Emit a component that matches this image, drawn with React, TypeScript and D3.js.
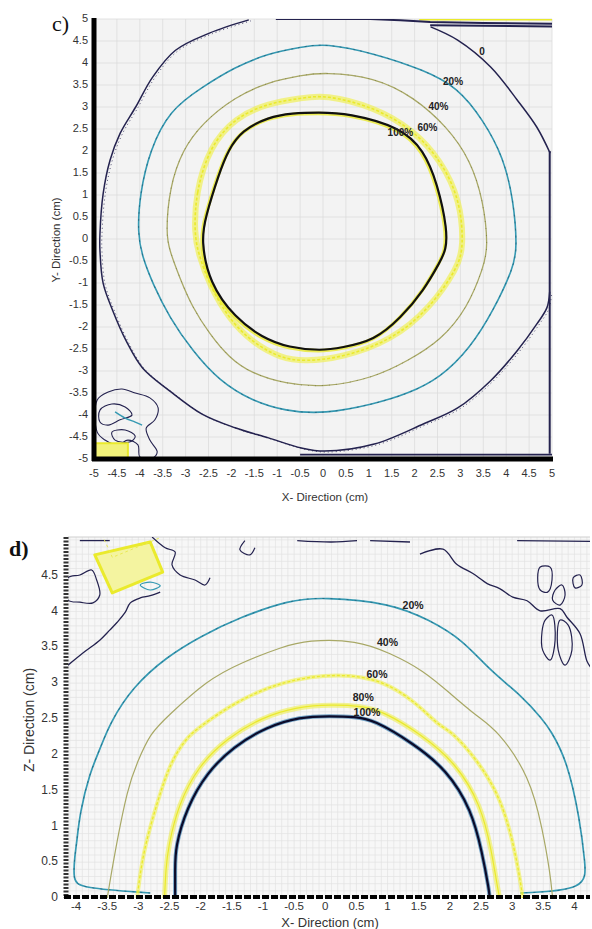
import React from "react";
import * as d3 from "d3";

// ---------- tick labels ----------
const cTicks = [-5, -4.5, -4, -3.5, -3, -2.5, -2, -1.5, -1, -0.5, 0, 0.5, 1, 1.5, 2, 2.5, 3, 3.5, 4, 4.5, 5];
const dXTicks = [-4, -3.5, -3, -2.5, -2, -1.5, -1, -0.5, 0, 0.5, 1, 1.5, 2, 2.5, 3, 3.5, 4];
const dZTicks = [0, 0.5, 1, 1.5, 2, 2.5, 3, 3.5, 4, 4.5];

// ---------- panel c contours (x, y in cm) ----------
const c100: [number, number][] = [[-2.66, -0.03], [-2.57, 0.49], [-2.27, 1.49], [-2.07, 2.02], [-1.77, 2.47], [-1.19, 2.77], [-0.68, 2.86], [-0.1, 2.88], [0.55, 2.86], [1.7, 2.54], [2.2, 2.02], [2.5, 1.26], [2.72, 0.19], [2.68, -0.26], [2.57, -0.49], [2.2, -1.17], [1.7, -1.79], [1.12, -2.31], [0.4, -2.47], [-0.03, -2.54], [-0.75, -2.47], [-1.33, -2.24], [-1.92, -1.79], [-2.48, -1.01]];
const c60: [number, number][] = [[-2.81, 0.12], [-2.78, 1.04], [-2.48, 2.09], [-1.92, 2.76], [-1.19, 3.09], [-0.47, 3.2], [0.03, 3.28], [1.12, 3.0], [1.98, 2.47], [2.57, 1.79], [3.0, 0.88], [3.07, -0.19], [2.94, -0.65], [2.35, -1.56], [1.49, -2.31], [0.4, -2.7], [-0.4, -2.78], [-0.9, -2.72], [-1.55, -2.35], [-2.05, -1.82], [-2.48, -1.05], [-2.72, -0.33]];
const c40: [number, number][] = [[-3.43, 0.12], [-3.35, 1.18], [-3.07, 2.02], [-2.64, 2.63], [-1.92, 3.23], [-1.19, 3.57], [-0.47, 3.72], [0.03, 3.79], [1.12, 3.68], [1.98, 3.23], [2.72, 2.54], [3.22, 1.79], [3.5, 0.88], [3.61, -0.19], [3.5, -0.65], [3.16, -1.56], [2.57, -2.31], [1.85, -2.77], [1.12, -3.15], [0.03, -3.38], [-0.83, -3.29], [-1.55, -3.06], [-2.05, -2.7], [-2.48, -2.15], [-2.85, -1.56], [-3.13, -0.88], [-3.35, -0.26]];
const c20: [number, number][] = [[-4.05, 0.12], [-4.0, 1.03], [-3.78, 2.02], [-3.35, 2.93], [-2.64, 3.45], [-1.92, 3.91], [-1.19, 4.22], [-0.47, 4.36], [0.03, 4.45], [1.12, 4.22], [2.2, 3.84], [2.94, 3.45], [3.5, 2.7], [3.94, 1.86], [4.16, 0.88], [4.24, -0.19], [4.16, -0.65], [3.72, -1.63], [3.22, -2.47], [2.57, -3.15], [1.85, -3.52], [1.12, -3.75], [0.03, -3.98], [-0.83, -3.91], [-1.55, -3.68], [-2.27, -3.22], [-2.85, -2.54], [-3.35, -1.79], [-3.72, -1.01], [-3.94, -0.42]];
const c0Arc: [number, number][] = [[-1.62, 4.98], [-2.48, 4.68], [-3.22, 4.29], [-3.72, 3.68], [-4.09, 3.0], [-4.43, 2.4], [-4.65, 1.79], [-4.8, 1.03], [-4.87, 0.12], [-4.87, -0.26], [-4.8, -1.01], [-4.59, -1.63], [-4.3, -2.31], [-3.94, -2.93], [-3.35, -3.45], [-2.64, -3.98], [-1.92, -4.29], [-1.19, -4.52], [-0.47, -4.75], [0.03, -4.82], [1.12, -4.66], [2.2, -4.2], [2.94, -3.84], [3.66, -3.22], [4.24, -2.54], [4.67, -1.93], [4.89, -1.56], [4.95, -1.2]];
const c0TopRight: [number, number][] = [[2.35, 4.82], [2.94, 4.52], [3.66, 3.91], [4.24, 3.16], [4.67, 2.54], [4.96, 1.95]];
const c0TopEdge: [number, number][] = [[-1.03, 5.0], [1.03, 5.0], [1.69, 4.97], [2.34, 4.93], [3.5, 4.91], [5, 4.89]];
const c0TopEdge2: [number, number][] = [[2.34, 4.86], [5, 4.83]];
const c0RightEdge: [number, number][] = [[4.95, 2.0], [4.95, -4.88]];
const c0BottomEdge: [number, number][] = [[-0.5, -4.9], [5, -4.9]];
const cYellowTop: [number, number][] = [[2.1, 5.0], [5, 5.0]];
const cBlob1: [number, number][] = [[-4.93, -3.66], [-4.69, -3.48], [-4.39, -3.41], [-4.1, -3.5], [-3.78, -3.61], [-3.6, -3.84], [-3.67, -4.11], [-3.86, -4.3], [-3.78, -4.57], [-3.62, -4.84], [-3.73, -4.98], [-4.0, -4.95], [-4.04, -4.68], [-4.26, -4.57], [-4.48, -4.68], [-4.76, -4.57], [-4.93, -4.39]];
const cBlob2: [number, number][] = [[-4.87, -3.89], [-4.61, -3.75], [-4.32, -3.82], [-4.17, -4.0], [-4.43, -4.11], [-4.69, -4.23], [-4.87, -4.16]];
const cBlob3: [number, number][] = [[-4.61, -4.39], [-4.32, -4.34], [-4.1, -4.48], [-4.21, -4.61], [-4.54, -4.57]];
const cTealBit: [number, number][] = [[-4.54, -3.93], [-4.32, -4.07], [-4.1, -4.16], [-3.95, -4.23]];
const cYellowBox: [number, number][] = [[-4.98, -4.64], [-4.26, -4.64], [-4.26, -4.98], [-4.98, -4.98]];
const cLabelText = ["0", "20%", "40%", "60%", "100%"];
const cLabelX = [3.47, 2.84, 2.52, 2.28, 1.69];
const cLabelY = [4.25, 3.55, 3.0, 2.52, 2.41];

// ---------- panel d contours (x, z in cm) ----------
const d100: [number, number][] = [[-2.41, 0], [-2.41, 0.39], [-2.41, 0.71], [-2.22, 1.27], [-1.9, 1.75], [-1.48, 2.11], [-0.94, 2.39], [-0.41, 2.53], [0.08, 2.54], [0.48, 2.53], [0.77, 2.49], [1.41, 2.16], [1.95, 1.79], [2.35, 1.23], [2.52, 0.63], [2.63, 0.11], [2.64, 0]];
const d80: [number, number][] = [[-2.58, 0], [-2.56, 0.4], [-2.52, 0.72], [-2.36, 1.3], [-2.04, 1.84], [-1.58, 2.23], [-1.02, 2.52], [-0.45, 2.67], [0.1, 2.7], [0.58, 2.68], [0.92, 2.61], [1.55, 2.28], [2.1, 1.88], [2.5, 1.3], [2.67, 0.66], [2.77, 0.12], [2.8, 0]];
const d60: [number, number][] = [[-3.02, 0], [-2.93, 0.63], [-2.7, 1.33], [-2.49, 1.89], [-2.22, 2.25], [-2.01, 2.39], [-1.48, 2.72], [-0.68, 3.04], [0.24, 3.14], [0.93, 3.04], [1.47, 2.72], [1.84, 2.39], [2.0, 2.35], [2.44, 1.93], [2.81, 1.41], [3.02, 0.77], [3.13, 0.25], [3.17, 0]];
const d40: [number, number][] = [[-3.5, 0], [-3.38, 0.63], [-3.17, 1.55], [-3.02, 1.89], [-2.81, 2.3], [-2.54, 2.53], [-1.9, 3.04], [-1.37, 3.28], [-0.68, 3.51], [-0.29, 3.6], [0.51, 3.6], [1.04, 3.42], [1.57, 3.18], [2.0, 2.86], [2.44, 2.53], [2.76, 2.35], [3.29, 1.69], [3.49, 0.95], [3.61, 0.35], [3.65, 0]];
const d20: [number, number][] = [[-2.81, 0.07], [-3.94, 0.14], [-4.05, 0.25], [-4.02, 0.6], [-3.99, 0.77], [-3.94, 1.19], [-3.78, 1.75], [-3.62, 2.07], [-3.46, 2.44], [-3.09, 2.95], [-2.54, 3.37], [-2.01, 3.65], [-1.37, 3.92], [-0.57, 4.16], [-0.04, 4.2], [1.04, 4.12], [1.68, 3.88], [2.21, 3.6], [2.64, 3.18], [3.17, 2.81], [3.49, 2.49], [3.61, 2.35], [3.88, 1.93], [4.09, 1.09], [4.17, 0.49], [4.2, 0.11], [3.13, 0.07]];
const d0Left: [number, number][] = [[-4.13, 3.25], [-3.86, 3.44], [-3.62, 3.6], [-3.46, 3.74], [-3.34, 3.85], [-3.21, 3.99], [-3.13, 4.12], [-2.97, 4.19], [-2.81, 4.22], [-2.65, 4.27]];
const d0LeftLoop: [number, number][] = [[-4.13, 4.47], [-3.94, 4.51], [-3.75, 4.58], [-3.67, 4.44], [-3.62, 4.23], [-3.73, 4.12], [-3.94, 4.13], [-4.13, 4.16]];
const d0NearBox: [number, number][] = [[-2.78, 5.04], [-2.57, 4.89], [-2.41, 4.83], [-2.46, 4.65], [-2.33, 4.51], [-2.09, 4.44], [-1.93, 4.37], [-1.85, 4.47]];
const d0Right: [number, number][] = [[1.52, 4.8], [1.89, 4.87], [2.11, 4.66], [2.37, 4.53], [2.6, 4.39], [2.8, 4.32], [3.01, 4.2], [3.24, 4.15], [3.45, 4.01], [3.77, 4.04], [3.88, 3.92], [4.09, 3.69], [4.2, 3.31], [4.28, 3.2]];
const d0Top1: [number, number][] = [[-3.94, 4.99], [-3.46, 4.99]];
const d0Top2: [number, number][] = [[-1.29, 4.99], [-1.37, 4.86], [-1.21, 4.79], [-1.13, 4.89]];
const d0Top3: [number, number][] = [[-0.45, 4.99], [0.1, 4.97], [0.51, 4.99]];
const d0Top4: [number, number][] = [[0.72, 4.99], [1.36, 4.97]];
const d0Top5: [number, number][] = [[3.08, 4.99], [4.25, 4.98]];
const d0Loops: [number, number][][] = [
  [[3.45, 4.62], [3.61, 4.62], [3.64, 4.44], [3.57, 4.27], [3.45, 4.3], [3.41, 4.47]],
  [[3.69, 4.3], [3.8, 4.37], [3.85, 4.23], [3.77, 4.09], [3.65, 4.16]],
  [[3.53, 3.88], [3.64, 3.95], [3.69, 3.6], [3.61, 3.32], [3.49, 3.46], [3.48, 3.72]],
  [[3.77, 3.88], [3.9, 3.81], [3.96, 3.46], [3.85, 3.25], [3.74, 3.46]],
  [[3.98, 4.47], [4.09, 4.51], [4.12, 4.37], [4.01, 4.33]],
];
const dTealLoop: [number, number][] = [[-2.97, 4.37], [-2.81, 4.41], [-2.65, 4.36], [-2.81, 4.3]];
const dYellowBox: [number, number][] = [[-3.7, 4.79], [-2.81, 4.97], [-2.61, 4.55], [-3.42, 4.26]];
const dLabelText = ["20%", "40%", "60%", "80%", "100%"];
const dLabelX = [1.41, 1.0, 0.83, 0.61, 0.67];
const dLabelZ = [4.08, 3.56, 3.11, 2.79, 2.58];

// ---------- colours ----------
const NAVY = "#24224f";
const TEAL = "#3599b2";
const OLIVE = "#a8a866";
const YEL = "#eaea2c";
const BLACK = "#111111";

const fmt = (v: number) => String(v);

export default function App() {
  // panel c scales
  const cx = d3.scaleLinear().domain([-5, 5]).range([94, 552]);
  const cy = d3.scaleLinear().domain([-5, 5]).range([459, 19]);
  // panel d scales
  const dx = d3.scaleLinear().domain([-4.13, 4.25]).range([68, 590]);
  const dz = d3.scaleLinear().domain([0, 5.04]).range([898, 537]);

  const cOpen = d3.line<[number, number]>().x((p) => cx(p[0])).y((p) => cy(p[1])).curve(d3.curveCatmullRom.alpha(0.5));
  const cLin = d3.line<[number, number]>().x((p) => cx(p[0])).y((p) => cy(p[1]));
  const cClosed = d3.line<[number, number]>().x((p) => cx(p[0])).y((p) => cy(p[1])).curve(d3.curveCatmullRomClosed.alpha(0.5));
  const cSmooth = d3.line<[number, number]>().x((p) => cx(p[0])).y((p) => cy(p[1])).curve(d3.curveBasisClosed);
  const cPoly = d3.line<[number, number]>().x((p) => cx(p[0])).y((p) => cy(p[1])).curve(d3.curveLinearClosed);

  const dOpen = d3.line<[number, number]>().x((p) => dx(p[0])).y((p) => dz(p[1])).curve(d3.curveCatmullRom.alpha(0.5));
  const dSmooth = d3.line<[number, number]>().x((p) => dx(p[0])).y((p) => dz(p[1])).curve(d3.curveBasis);
  const dLin = d3.line<[number, number]>().x((p) => dx(p[0])).y((p) => dz(p[1]));
  const dClosed = d3.line<[number, number]>().x((p) => dx(p[0])).y((p) => dz(p[1])).curve(d3.curveCatmullRomClosed.alpha(0.5));
  const dPoly = d3.line<[number, number]>().x((p) => dx(p[0])).y((p) => dz(p[1])).curve(d3.curveLinearClosed);

  const cGrid = d3.range(-5, 5.001, 0.5);
  const dGridX = d3.range(-4.1, 4.25, 0.1);
  const dGridZ = d3.range(0, 5.04, 0.1);

  const sans = "Liberation Sans, Arial, sans-serif";

  return (
    <svg width={592} height={929} style={{ position: "absolute", left: 0, top: 0, background: "#fff" }} fontFamily={sans}>
      <defs>
        <clipPath id="clipC">
          <rect x={94} y={19} width={458} height={440} />
        </clipPath>
        <clipPath id="clipD">
          <rect x={68} y={537} width={522} height={361} />
        </clipPath>
      </defs>

      {/* ================= PANEL C ================= */}
      <rect x={94} y={19} width={458} height={440} fill="#f3f3f3" />
      {cGrid.map((v, i) => (
        <g key={"cg" + i}>
          <line x1={cx(v)} x2={cx(v)} y1={19} y2={459} stroke="#dcdcdc" strokeWidth={0.8} />
          <line x1={94} x2={552} y1={cy(v)} y2={cy(v)} stroke="#dcdcdc" strokeWidth={0.8} />
        </g>
      ))}
      <g clipPath="url(#clipC)" fill="none" strokeLinejoin="round">
        {/* 0 contour */}
        <path d={cOpen(c0Arc) || ""} stroke={NAVY} strokeWidth={1.5} />
        <path d={cOpen(c0Arc) || ""} stroke={NAVY} strokeWidth={0.8} strokeDasharray="1 3" transform="translate(2,1)" />
        <path d={cOpen(c0TopRight) || ""} stroke={NAVY} strokeWidth={1.5} />
        <path d={cLin(cYellowTop) || ""} stroke={YEL} strokeWidth={3} />
        <path d={cLin(c0TopEdge) || ""} stroke={NAVY} strokeWidth={2} />
        <path d={cLin(c0TopEdge2) || ""} stroke={NAVY} strokeWidth={2} />
        <path d={cLin(c0RightEdge) || ""} stroke={NAVY} strokeWidth={2} />
        <path d={cLin(c0BottomEdge) || ""} stroke={NAVY} strokeWidth={1.6} />
        <path d={cClosed(cBlob1) || ""} stroke={NAVY} strokeWidth={1.1} />
        <path d={cClosed(cBlob2) || ""} stroke={NAVY} strokeWidth={1.1} />
        <path d={cClosed(cBlob3) || ""} stroke={NAVY} strokeWidth={1.1} />
        <path d={cOpen(cTealBit) || ""} stroke={TEAL} strokeWidth={1.4} />
        <path d={cPoly(cYellowBox) || ""} fill="#f2f27a" stroke={YEL} strokeWidth={2} />
        {/* 20% */}
        <path d={cSmooth(c20) || ""} stroke={TEAL} strokeWidth={1.6} />
        <path d={cSmooth(c20) || ""} stroke="#1e5f78" strokeWidth={0.7} strokeDasharray="2 5" />
        {/* 40% */}
        <path d={cSmooth(c40) || ""} stroke={OLIVE} strokeWidth={1.3} />
        <path d={cSmooth(c40) || ""} stroke="#6d6d3a" strokeWidth={0.6} strokeDasharray="1 6" />
        {/* 60% */}
        <path d={cSmooth(c60) || ""} stroke="#f0f040" strokeWidth={6} opacity={0.6} />
        <path d={cSmooth(c60) || ""} stroke={YEL} strokeWidth={1.6} strokeDasharray="3 2" />
        {/* 100% */}
        <path d={cSmooth(c100) || ""} stroke={YEL} strokeWidth={3.5} opacity={0.8} transform="translate(-1,1)" />
        <path d={cSmooth(c100) || ""} stroke={BLACK} strokeWidth={2.2} />
      </g>
      {cLabelText.map((t, i) => (
        <text key={"cl" + i} x={cx(cLabelX[i])} y={cy(cLabelY[i])} fontSize={10} fontWeight={600} fill="#222" textAnchor="middle" dominantBaseline="middle">
          {t}
        </text>
      ))}
      {/* axes c */}
      <line x1={94} x2={94} y1={18} y2={461} stroke="#000" strokeWidth={5} />
      <line x1={92} x2={553} y1={459} y2={459} stroke="#000" strokeWidth={5} />
      {cTicks.map((v, i) => (
        <text key={"cyt" + i} x={88} y={cy(v)} fontSize={11} fill="#333" textAnchor="end" dominantBaseline="middle">
          {fmt(v)}
        </text>
      ))}
      {cTicks.map((v, i) => (
        <text key={"cxt" + i} x={cx(v)} y={477} fontSize={11} fill="#333" textAnchor="middle">
          {fmt(v)}
        </text>
      ))}
      <text x={325} y={501} fontSize={11.5} fill="#333" textAnchor="middle">X- Direction (cm)</text>
      <text transform="translate(60,240) rotate(-90)" fontSize={11.5} fill="#333" textAnchor="middle">Y- Direction (cm)</text>
      <text x={52} y={31} fontSize={22} fontFamily="Liberation Serif, Times New Roman, serif" fill="#111">c)</text>

      {/* ================= PANEL D ================= */}
      <rect x={68} y={537} width={522} height={361} fill="#f7f7f7" />
      <g clipPath="url(#clipD)">
        {dGridX.map((v, i) => (
          <line key={"dgx" + i} x1={dx(v)} x2={dx(v)} y1={537} y2={898} stroke="#e3e3e3" strokeWidth={0.7} />
        ))}
        {dGridZ.map((v, i) => (
          <line key={"dgz" + i} x1={68} x2={590} y1={dz(v)} y2={dz(v)} stroke="#e3e3e3" strokeWidth={0.7} />
        ))}
      </g>
      <line x1={68} x2={590} y1={537} y2={537} stroke="#cfcfcf" strokeWidth={1} />
      <g clipPath="url(#clipD)" fill="none" strokeLinejoin="round">
        {/* 0 contour pieces */}
        <path d={dOpen(d0Left) || ""} stroke={NAVY} strokeWidth={1.3} />
        <path d={dClosed(d0LeftLoop) || ""} stroke={NAVY} strokeWidth={1.2} />
        <path d={dOpen(d0NearBox) || ""} stroke={NAVY} strokeWidth={1.2} />
        <path d={dOpen(d0Right) || ""} stroke={NAVY} strokeWidth={1.3} />
        <path d={dLin(d0Top1) || ""} stroke={NAVY} strokeWidth={1.3} />
        <path d={dOpen(d0Top2) || ""} stroke={NAVY} strokeWidth={1.2} />
        <path d={dOpen(d0Top3) || ""} stroke={NAVY} strokeWidth={1.3} />
        <path d={dLin(d0Top4) || ""} stroke={NAVY} strokeWidth={1.3} />
        <path d={dLin(d0Top5) || ""} stroke={NAVY} strokeWidth={1.3} />
        {d0Loops.map((l, i) => (
          <path key={"dl" + i} d={dClosed(l) || ""} stroke={NAVY} strokeWidth={1.2} />
        ))}
        <path d={dClosed(dTealLoop) || ""} stroke={TEAL} strokeWidth={1.2} />
        <path d={dPoly(dYellowBox) || ""} fill="#f4f4a0" stroke={YEL} strokeWidth={3} />
        <path d={dPoly(dYellowBox) || ""} fill="none" stroke="#e8e850" strokeWidth={1} strokeDasharray="3 3" transform="translate(8,6) scale(0.93)" />
        {/* 20% */}
        <path d={dSmooth(d20) || ""} stroke={TEAL} strokeWidth={1.7} />
        <path d={dSmooth(d20) || ""} stroke="#1e5f78" strokeWidth={0.7} strokeDasharray="2 6" />
        {/* 40% */}
        <path d={dSmooth(d40) || ""} stroke={OLIVE} strokeWidth={1.2} />
        {/* 60% */}
        <path d={dSmooth(d60) || ""} stroke="#f0f040" strokeWidth={4} opacity={0.55} />
        <path d={dSmooth(d60) || ""} stroke={YEL} strokeWidth={1.3} strokeDasharray="3 2" />
        {/* 80% */}
        <path d={dSmooth(d80) || ""} stroke="#eeee44" strokeWidth={5} opacity={0.55} />
        <path d={dSmooth(d80) || ""} stroke={YEL} strokeWidth={1.2} />
        {/* 100% */}
        <path d={dSmooth(d100) || ""} stroke="#3a7fb0" strokeWidth={4} opacity={0.7} />
        <path d={dSmooth(d100) || ""} stroke="#0b0b2a" strokeWidth={2.2} />
      </g>
      {dLabelText.map((t, i) => (
        <text key={"dlab" + i} x={dx(dLabelX[i])} y={dz(dLabelZ[i])} fontSize={10.5} fontWeight={600} fill="#222" textAnchor="middle" dominantBaseline="middle">
          {t}
        </text>
      ))}
      {/* axes d */}
      <line x1={66} x2={66} y1={537} y2={898} stroke="#333" strokeWidth={5} strokeDasharray="2 1.5" />
      <line x1={64} x2={590} y1={897} y2={897} stroke="#000" strokeWidth={4} strokeDasharray="7 2" />
      {dZTicks.map((v, i) => (
        <text key={"dzt" + i} x={58} y={dz(v)} fontSize={12} fill="#333" textAnchor="end" dominantBaseline="middle">
          {fmt(v)}
        </text>
      ))}
      {dXTicks.map((v, i) => (
        <text key={"dxt" + i} x={dx(v)} y={910} fontSize={11.5} fill="#333" textAnchor="middle">
          {fmt(v)}
        </text>
      ))}
      <text x={330} y={927} fontSize={13} fill="#333" textAnchor="middle">X- Direction (cm)</text>
      <text transform="translate(34,720) rotate(-90)" fontSize={14} fill="#333" textAnchor="middle">Z- Direction (cm)</text>
      <text x={9} y={556} fontSize={22} fontWeight={700} fontFamily="Liberation Serif, Times New Roman, serif" fill="#111">d)</text>
    </svg>
  );
}
